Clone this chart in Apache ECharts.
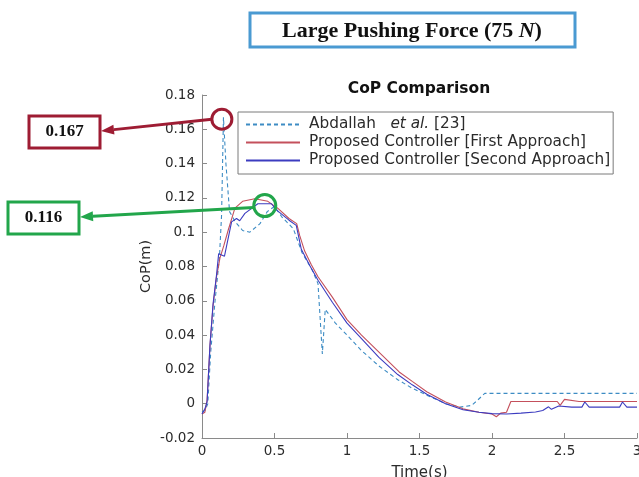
<!DOCTYPE html>
<html>
<head>
<meta charset="utf-8">
<title>CoP Comparison</title>
<script src="https://cdn.jsdelivr.net/npm/echarts@6/dist/echarts.min.js"></script>
<style>
  html, body { margin: 0; padding: 0; background: #fff; }
  #chart { width: 639px; height: 477px; }
</style>
</head>
<body>
<div id="chart"></div>
<script>
// values (time in s, CoP in m)
const abdT = [0, 0.02, 0.04, 0.06, 0.09, 0.12, 0.135, 0.148, 0.165, 0.19, 0.23, 0.28, 0.33, 0.4, 0.45, 0.5, 0.55, 0.63, 0.69, 0.76, 0.8, 0.83, 0.85, 0.92, 1.0, 1.1, 1.22, 1.35, 1.45, 1.55, 1.68, 1.78, 1.86, 1.9, 1.95, 2.2, 2.5, 3.0]
const abdV = [-0.005, -0.004, 0.0, 0.03, 0.06, 0.085, 0.11, 0.167, 0.14, 0.112, 0.106, 0.101, 0.1, 0.105, 0.112, 0.115, 0.109, 0.102, 0.088, 0.078, 0.07, 0.029, 0.055, 0.047, 0.04, 0.031, 0.022, 0.014, 0.009, 0.005, 0.0, -0.002, -0.001, 0.002, 0.006, 0.006, 0.006, 0.006]

const firstT = [0, 0.02, 0.035, 0.055, 0.076, 0.1, 0.124, 0.15, 0.18, 0.227, 0.28, 0.364, 0.454, 0.522, 0.6, 0.653, 0.674, 0.708, 0.754, 0.8, 0.9, 1.0, 1.1, 1.245, 1.36, 1.45, 1.55, 1.68, 1.8, 1.91, 2.0, 2.03, 2.06, 2.1, 2.13, 2.3, 2.45, 2.47, 2.5, 2.6, 2.8, 3.0]
const firstV = [-0.006, -0.005, 0.002, 0.034, 0.057, 0.074, 0.085, 0.092, 0.101, 0.114, 0.118, 0.1195, 0.118, 0.114, 0.108, 0.105, 0.098, 0.089, 0.081, 0.074, 0.062, 0.049, 0.04, 0.028, 0.0185, 0.013, 0.007, 0.001, -0.003, -0.005, -0.006, -0.0076, -0.0055, -0.005, 0.0013, 0.0013, 0.0013, -0.001, 0.0025, 0.0013, 0.0013, 0.0013]

const secondT = [0, 0.02, 0.035, 0.055, 0.076, 0.1, 0.115, 0.155, 0.204, 0.238, 0.26, 0.296, 0.385, 0.479, 0.513, 0.6, 0.65, 0.685, 0.742, 0.8, 0.9, 1.0, 1.1, 1.22, 1.35, 1.45, 1.55, 1.68, 1.8, 1.91, 2.0, 2.1, 2.2, 2.3, 2.35, 2.39, 2.41, 2.46, 2.55, 2.62, 2.64, 2.67, 2.85, 2.88, 2.9, 2.93, 3.0]
const secondV = [-0.006, -0.003, 0.001, 0.034, 0.058, 0.075, 0.0875, 0.086, 0.106, 0.108, 0.1067, 0.111, 0.1166, 0.1166, 0.113, 0.107, 0.104, 0.09, 0.0807, 0.072, 0.059, 0.047, 0.038, 0.027, 0.017, 0.011, 0.0055, 0.0, -0.0035, -0.005, -0.0058, -0.006, -0.0055, -0.0048, -0.004, -0.0018, -0.0033, -0.0013, -0.002, -0.002, 0.001, -0.002, -0.002, -0.002, 0.001, -0.002, -0.002]

const seriesNames = ['Abdallah et al. [23]', 'Proposed Controller [First Approach]', 'Proposed Controller [Second Approach]']
const xTicks = [0, 0.5, 1, 1.5, 2, 2.5, 3]
const yTicks = [-0.02, 0, 0.02, 0.04, 0.06, 0.08, 0.1, 0.12, 0.14, 0.16, 0.18]

// highlighted peaks: [time, value, label]
const peakA = [0.137, 0.1665, '0.167']
const peakB = [0.433, 0.1155, '0.116']

const zip = (t, v) => t.map((x, i) => [x, v[i]])

const chart = echarts.init(document.getElementById('chart'))

const axisColor = '#8a8a8a'
const textColor = '#2b2b2b'
const font = 'DejaVu Sans'

const option = {
  animation: false,
  backgroundColor: '#fff',
  textStyle: { fontFamily: font },
  title: {
    text: 'CoP Comparison',
    left: 414,
    textAlign: 'center',
    top: 76,
    textStyle: { fontSize: 15.5, fontWeight: 'bold', color: '#111', fontFamily: font }
  },
  legend: {
    orient: 'vertical',
    left: 238,
    top: 112,
    padding: [5, 3, 6, 7],
    itemGap: 3,
    itemWidth: 54,
    itemHeight: 14,
    borderColor: '#7a7a7a',
    borderWidth: 1,
    backgroundColor: '#fff',
    itemStyle: { opacity: 0 },
    textStyle: {
      fontSize: 15.3,
      color: textColor,
      fontFamily: font,
      padding: [0, 0, 0, 4],
      rich: { i: { fontStyle: 'italic', fontSize: 15.3, color: textColor, fontFamily: font } }
    },
    formatter: name => name === seriesNames[0] ? 'Abdallah   {i|et al.} [23]' : name,
    data: seriesNames
  },
  grid: { left: 202, right: 2, top: 95, bottom: 39, containLabel: false, outerBoundsMode: 'none' },
  xAxis: {
    type: 'value',
    min: xTicks[0],
    max: xTicks[xTicks.length - 1],
    interval: 0.5,
    name: 'Time(s)',
    nameLocation: 'middle',
    nameGap: 28,
    nameTextStyle: { fontSize: 15, color: textColor, fontFamily: font },
    axisLine: { onZero: false, lineStyle: { color: axisColor } },
    axisTick: { inside: true, length: 5, lineStyle: { color: axisColor } },
    axisLabel: { fontSize: 13.5, color: textColor, margin: 6, formatter: v => String(+v.toFixed(2)) },
    splitLine: { show: false }
  },
  yAxis: {
    type: 'value',
    min: yTicks[0],
    max: yTicks[yTicks.length - 1],
    interval: 0.02,
    name: 'CoP(m)',
    nameLocation: 'middle',
    nameGap: 48,
    nameMoveOverlap: false,
    nameTextStyle: { fontSize: 14.5, color: textColor, fontFamily: font },
    axisLine: { show: true, lineStyle: { color: axisColor } },
    axisTick: { show: true, inside: true, length: 5, lineStyle: { color: axisColor } },
    axisLabel: { fontSize: 13.5, color: textColor, margin: 7, formatter: v => String(+v.toFixed(2)) },
    splitLine: { show: false }
  },
  series: [
    {
      name: seriesNames[0],
      type: 'line',
      data: zip(abdT, abdV),
      symbol: 'none',
      z: 1,
      lineStyle: { color: '#3d8cc4', width: 1.1, type: [4, 3] },
      itemStyle: { color: '#3d8cc4' }
    },
    {
      name: seriesNames[1],
      type: 'line',
      data: zip(firstT, firstV),
      symbol: 'none',
      z: 2,
      lineStyle: { color: '#c4505c', width: 1.1 },
      itemStyle: { color: '#c4505c' }
    },
    {
      name: seriesNames[2],
      type: 'line',
      data: zip(secondT, secondV),
      symbol: 'none',
      z: 3,
      lineStyle: { color: '#3c3cc0', width: 1.1 },
      itemStyle: { color: '#3c3cc0' }
    }
  ]
}

chart.setOption(option)

// annotation helpers
function arrow(from, to, color) {
  const dx = to[0] - from[0], dy = to[1] - from[1]
  const len = Math.sqrt(dx * dx + dy * dy)
  const ux = dx / len, uy = dy / len
  const head = 13, half = 5
  const bx = to[0] - ux * head, by = to[1] - uy * head
  return [
    { type: 'line', shape: { x1: from[0], y1: from[1], x2: bx, y2: by }, style: { stroke: color, lineWidth: 3 }, z: 20 },
    {
      type: 'polygon',
      shape: { points: [to, [bx - uy * half, by + ux * half], [bx + uy * half, by - ux * half]] },
      style: { fill: color },
      z: 20
    }
  ]
}

function valueBox(x, y, w, h, text, color) {
  return [
    { type: 'rect', shape: { x: x, y: y, width: w, height: h }, style: { fill: '#fff', stroke: color, lineWidth: 3 }, z: 20 },
    {
      type: 'text', x: x + w / 2, y: y + h / 2, z: 21,
      style: { text: text, fill: '#111', font: 'bold 17px "Liberation Serif"', align: 'center', verticalAlign: 'middle' }
    }
  ]
}

const red = '#9e1c33'
const green = '#22a64b'
const pA = chart.convertToPixel({ gridIndex: 0 }, [peakA[0], peakA[1]])
const pB = chart.convertToPixel({ gridIndex: 0 }, [peakB[0], peakB[1]])

const graphic = []
  .concat(
    [
      { type: 'rect', shape: { x: 250, y: 13, width: 325, height: 34 }, style: { fill: '#fff', stroke: '#4a9ad2', lineWidth: 3 }, z: 20 },
      {
        type: 'text', x: 412, y: 31, z: 21,
        style: {
          text: 'Large Pushing Force (75 {n|N})',
          font: 'bold 22px "Liberation Serif"',
          fill: '#111',
          align: 'center',
          verticalAlign: 'middle',
          rich: { n: { font: 'italic bold 22px "Liberation Serif"', fill: '#111' } }
        }
      }
    ],
    valueBox(29, 116, 71, 32, peakA[2], red),
    valueBox(8, 202, 71, 32, peakB[2], green),
    arrow([pA[0] - 10, pA[1] + 1], [101, 131], red),
    arrow([pB[0] - 11, pB[1] + 2], [80, 217], green),
    [
      { type: 'circle', shape: { cx: pA[0], cy: pA[1] + 1, r: 10 }, style: { fill: 'none', stroke: red, lineWidth: 3 }, z: 20 },
      { type: 'circle', shape: { cx: pB[0], cy: pB[1], r: 11 }, style: { fill: 'none', stroke: green, lineWidth: 3 }, z: 20 }
    ]
  )

chart.setOption({ graphic: graphic })
</script>
</body>
</html>
